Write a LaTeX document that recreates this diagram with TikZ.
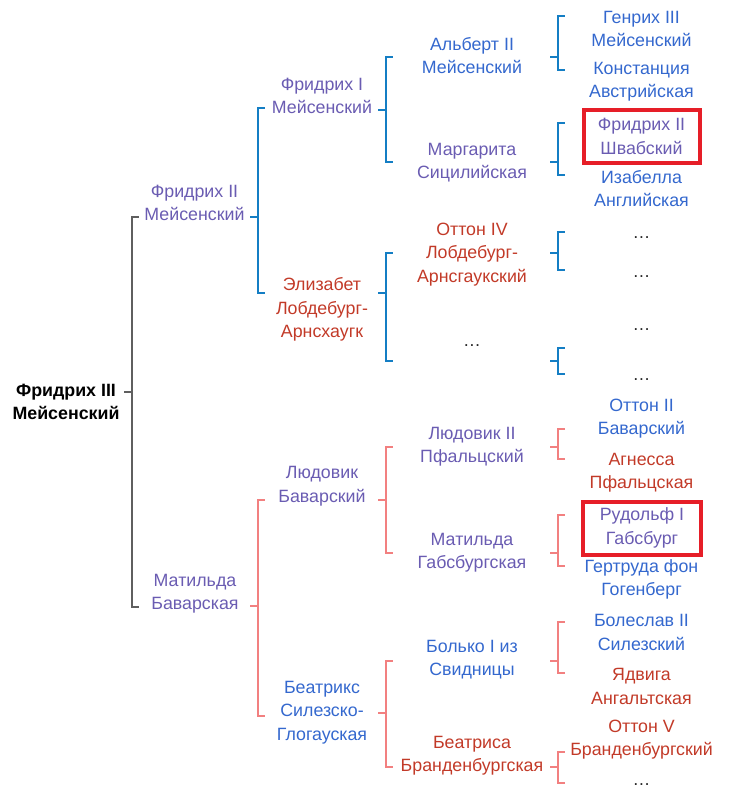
\documentclass[tikz,border=0pt]{standalone}
\usepackage{fontspec}
\setmainfont{Liberation Sans}

\definecolor{vio}{RGB}{106,92,178}
\definecolor{blu}{RGB}{52,104,206}
\definecolor{rd}{RGB}{194,58,40}
\definecolor{dotc}{RGB}{40,40,40}
\definecolor{brgry}{RGB}{95,95,95}
\definecolor{brblu}{RGB}{20,126,196}
\definecolor{brpnk}{RGB}{242,128,128}
\definecolor{boxred}{RGB}{230,30,40}

\tikzset{
  person/.style={align=center, inner sep=0pt, font=\fontsize{17.8}{23.5}\selectfont},
  gap/.style={person, text=dotc},
  marked/.style={draw=boxred, line width=4pt, minimum width=116pt, minimum height=53pt},
  brk/.style={line width=1.2pt},
}

\begin{document}
\begin{tikzpicture}[x=1pt, y=-1pt]
  \useasboundingbox (0,0) rectangle (736,789);

  % Proband
  \node[person, text=black, font=\fontsize{17.8}{23.5}\selectfont\bfseries] (f3m) at (66,402) {Фридрих III\\Мейсенский};
  \coordinate (f3m-out) at (132,392);

  % Parents
  \node[person, text=vio] (f2m) at (194.5,203) {Фридрих II\\Мейсенский};
  \coordinate (f2m-in) at (139,217);
  \coordinate (f2m-out) at (258,217);
  \node[person, text=vio] (mb) at (195,593.5) {Матильда\\Баварская};
  \coordinate (mb-in) at (139,607);
  \coordinate (mb-out) at (258,606);

  % Grandparents
  \node[person, text=vio] (f1m) at (322,96) {Фридрих I\\Мейсенский};
  \coordinate (f1m-in) at (265,108);
  \coordinate (f1m-out) at (386,110);
  \node[person, text=rd] (el) at (322,309.5) {Элизабет\\Лобдебург-\\Арнсхаугк};
  \coordinate (el-in) at (265,293);
  \coordinate (el-out) at (386,293);
  \node[person, text=vio] (lb) at (322,486) {Людовик\\Баварский};
  \coordinate (lb-in) at (265,500);
  \coordinate (lb-out) at (386,500);
  \node[person, text=blu] (bs) at (322,712.5) {Беатрикс\\Силезско-\\Глогауская};
  \coordinate (bs-in) at (265,716);
  \coordinate (bs-out) at (386,713);

  % Great-grandparents
  \node[person, text=blu] (a2m) at (472,55.5) {Альберт II\\Мейсенский};
  \coordinate (a2m-in) at (393,57);
  \coordinate (a2m-out) at (558,57);
  \node[person, text=vio] (ms) at (472,162.5) {Маргарита\\Сицилийская};
  \coordinate (ms-in) at (393,162);
  \coordinate (ms-out) at (558,162);
  \node[person, text=rd] (o4) at (472,254.5) {Оттон IV\\Лобдебург-\\Арнсгаукский};
  \coordinate (o4-in) at (393,253);
  \coordinate (o4-out) at (558,253);
  \node[gap] (g3) at (472,346) {…};
  \coordinate (g3-in) at (393,361);
  \coordinate (g3-out) at (558,361);
  \node[person, text=vio] (l2p) at (472,446.5) {Людовик II\\Пфальцский};
  \coordinate (l2p-in) at (393,447);
  \coordinate (l2p-out) at (558,447);
  \node[person, text=vio] (mg) at (472,552.5) {Матильда\\Габсбургская};
  \coordinate (mg-in) at (393,553);
  \coordinate (mg-out) at (558,553);
  \node[person, text=blu] (b1s) at (472,659.5) {Болько I из\\Свидницы};
  \coordinate (b1s-in) at (393,661);
  \coordinate (b1s-out) at (558,661);
  \node[person, text=rd] (bb) at (472,755.5) {Беатриса\\Бранденбургская};
  \coordinate (bb-in) at (393,767);
  \coordinate (bb-out) at (558,767);

  % Great-great-grandparents
  \node[person, text=blu] (g3m) at (641.5,29) {Генрих III\\Мейсенский};
  \coordinate (g3m-in) at (565,16);
  \node[person, text=blu] (ka) at (641.5,81.5) {Констанция\\Австрийская};
  \coordinate (ka-in) at (565,70);
  \node[person, text=vio, marked] (f2s) at (641.5,136.5) {Фридрих II\\Швабский};
  \coordinate (f2s-in) at (565,123);
  \node[person, text=blu] (ia) at (641.5,188.5) {Изабелла\\Английская};
  \coordinate (ia-in) at (565,175);
  \node[gap] (g4a) at (641.5,238) {…};
  \coordinate (g4a-in) at (565,232);
  \node[gap] (g4b) at (641.5,277) {…};
  \coordinate (g4b-in) at (565,270);
  \node[gap] (g4c) at (641.5,330) {…};
  \coordinate (g4c-in) at (565,348);
  \node[gap] (g4d) at (641.5,380) {…};
  \coordinate (g4d-in) at (565,374);
  \node[person, text=blu] (o2b) at (641.5,418.5) {Оттон II\\Баварский};
  \coordinate (o2b-in) at (565,429);
  \node[person, text=rd] (ap) at (641.5,472.5) {Агнесса\\Пфальцская};
  \coordinate (ap-in) at (565,459);
  \node[person, text=vio, marked, minimum width=118pt] (r1g) at (642,528) {Рудольф I\\Габсбург};
  \coordinate (r1g-in) at (565,515);
  \node[person, text=blu] (gg) at (641.5,579.5) {Гертруда фон\\Гогенберг};
  \coordinate (gg-in) at (565,566);
  \node[person, text=blu] (b2s) at (641.5,632.5) {Болеслав II\\Силезский};
  \coordinate (b2s-in) at (565,622);
  \node[person, text=rd] (ya) at (641.5,686.5) {Ядвига\\Ангальтская};
  \coordinate (ya-in) at (565,673);
  \node[person, text=rd] (o5b) at (641.5,739.5) {Оттон V\\Бранденбургский};
  \coordinate (o5b-in) at (565,752);
  \node[gap] (g4e) at (641.5,785) {…};
  \coordinate (g4e-in) at (565,783);

  % Brackets
  \draw[brk, brgry] ([xshift=-8pt]f3m-out) -- (f3m-out) |- (f2m-in);
  \draw[brk, brgry] (f3m-out) |- (mb-in);

  \draw[brk, brblu] ([xshift=-8pt]f2m-out) -- (f2m-out) |- (f1m-in);
  \draw[brk, brblu] (f2m-out) |- (el-in);
  \draw[brk, brpnk] ([xshift=-8pt]mb-out) -- (mb-out) |- (lb-in);
  \draw[brk, brpnk] (mb-out) |- (bs-in);

  \draw[brk, brblu] ([xshift=-8pt]f1m-out) -- (f1m-out) |- (a2m-in);
  \draw[brk, brblu] (f1m-out) |- (ms-in);
  \draw[brk, brblu] ([xshift=-8pt]el-out) -- (el-out) |- (o4-in);
  \draw[brk, brblu] (el-out) |- (g3-in);
  \draw[brk, brpnk] ([xshift=-8pt]lb-out) -- (lb-out) |- (l2p-in);
  \draw[brk, brpnk] (lb-out) |- (mg-in);
  \draw[brk, brpnk] ([xshift=-8pt]bs-out) -- (bs-out) |- (b1s-in);
  \draw[brk, brpnk] (bs-out) |- (bb-in);

  \draw[brk, brblu] ([xshift=-8pt]a2m-out) -- (a2m-out) |- (g3m-in);
  \draw[brk, brblu] (a2m-out) |- (ka-in);
  \draw[brk, brblu] ([xshift=-8pt]ms-out) -- (ms-out) |- (f2s-in);
  \draw[brk, brblu] (ms-out) |- (ia-in);
  \draw[brk, brblu] ([xshift=-8pt]o4-out) -- (o4-out) |- (g4a-in);
  \draw[brk, brblu] (o4-out) |- (g4b-in);
  \draw[brk, brblu] ([xshift=-8pt]g3-out) -- (g3-out) |- (g4c-in);
  \draw[brk, brblu] (g3-out) |- (g4d-in);
  \draw[brk, brpnk] ([xshift=-8pt]l2p-out) -- (l2p-out) |- (o2b-in);
  \draw[brk, brpnk] (l2p-out) |- (ap-in);
  \draw[brk, brpnk] ([xshift=-8pt]mg-out) -- (mg-out) |- (r1g-in);
  \draw[brk, brpnk] (mg-out) |- (gg-in);
  \draw[brk, brpnk] ([xshift=-8pt]b1s-out) -- (b1s-out) |- (b2s-in);
  \draw[brk, brpnk] (b1s-out) |- (ya-in);
  \draw[brk, brpnk] ([xshift=-8pt]bb-out) -- (bb-out) |- (o5b-in);
  \draw[brk, brpnk] (bb-out) |- (g4e-in);
\end{tikzpicture}
\end{document}
